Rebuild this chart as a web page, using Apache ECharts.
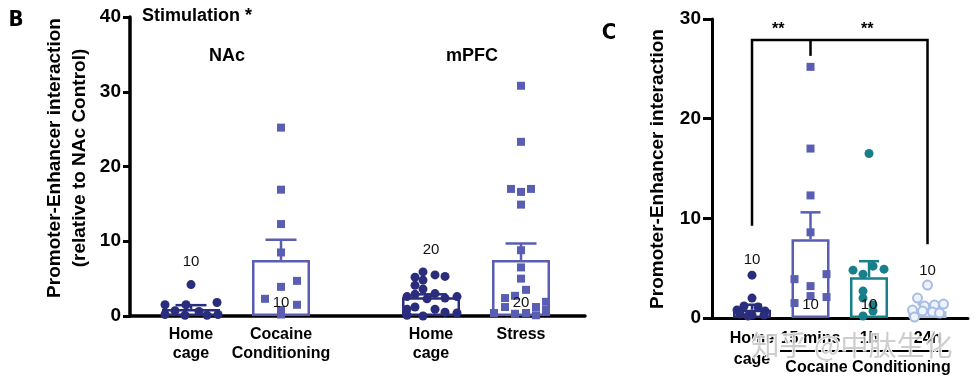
<!DOCTYPE html>
<html><head><meta charset="utf-8">
<script src="https://cdn.jsdelivr.net/npm/echarts@6/dist/echarts.min.js"></script>
<style>html,body{margin:0;padding:0;background:#fff}#c{width:978px;height:386px}</style>
</head><body><div id="c"></div>
<script>
// ================= DATA =================
// Panel B
const bCategories = ['Home\ncage', 'Cocaine\nConditioning', 'Home\ncage', 'Stress'];
const bRegions = ['NAc', 'mPFC'];
const bMeans = [0.95, 7.5, 2.5, 7.5];
const bSEM = [0.5, 2.7, 0.4, 2.2];
const bN = [10, 10, 20, 20];
const bNacHome = [4.2, 1.8, 1.5, 1.5, 0.7, 0.6, 0.2, 0.1, 0.1, 0.2];
const bNacCocaine = [25.2, 16.9, 12.3, 8.5, 4.7, 3.9, 2.3, 1.5, 0.8, 0.2];
const bMpfcHome = [5.9, 5.5, 5.3, 5.2, 4.8, 4.1, 3.6, 3.0, 2.9, 2.6, 2.6, 2.4, 2.3, 1.2, 0.9, 0.9, 0.5, 0.4, 0.1, 0.0];
const bMpfcStress = [30.8, 23.3, 17.0, 17.0, 16.6, 14.9, 8.8, 6.5, 5.0, 3.5, 2.7, 2.4, 1.9, 1.2, 1.2, 0.8, 0.4, 0.3, 0.4, 0.1];
const bYTicks = [0, 10, 20, 30, 40];
const bTitle = 'Stimulation *';
const bYName = 'Promoter-Enhancer interaction\n(relative to NAc Control)';

// Panel C
const cCategories = ['Home\ncage', '15 mins', '1h', '24h'];
const cMeans = [0.83, 7.9, 4.1, 0.67];
const cSEM = [0.5, 2.7, 1.6, 0.7];
const cN = [10, 10, 10, 10];
const cHome = [4.3, 2.0, 1.2, 1.1, 0.8, 0.7, 0.4, 0.3, 0.3, 0.2];
const c15min = [25.2, 17.0, 12.3, 8.6, 4.4, 3.9, 3.2, 2.2, 2.1, 1.5];
const c1h = [16.5, 5.2, 4.9, 4.8, 4.4, 2.7, 2.0, 1.3, 0.7, 0.2];
const c24h = [3.3, 2.0, 1.4, 1.3, 1.2, 0.8, 0.7, 0.6, 0.5, 0.1];
const cYTicks = [0, 10, 20, 30];
const cStars = ['**', '**'];
const cGroupLabel = 'Cocaine Conditioning';
const cYName = 'Promoter-Enhancer interaction';

// ================= LAYOUT / STYLE =================
const FONT = '"Liberation Sans", Arial, Helvetica, sans-serif';
const navy = '#2a2c7c', purple = '#5a5eb2', teal = '#17808a', light = '#a6bde4';
const bPos = [0, 1, 2.667, 3.667];
const cPos = [0, 1, 2, 3];
// horizontal jitter of points, px
const bJit = [
  [0, 26, -26, -5, -16, 8, -26, -6, 16, 27],
  [0, 0, 0, 0, 16, 0, -16, 16, 0, 0],
  [-8, 4, 14, -16, -8, -16, -8, 4, -16, -24, 26, 14, -4, -16, -24, 4, 14, 26, -24, -8],
  [0, 0, -10, 10, 0, 0, 0, 0, 0, 5, -6, -16, 25, -16, 15, 25, 5, -6, -27, 15]
];
const cJit = [
  [0, 0, -8, 6, -15, 13, -12, 0, 12, -4],
  [0, 0, 0, 0, 16, -16, 0, 0, 16, -16],
  [0, 4, 15, -16, -6, -6, -6, 4, 4, -6],
  [0, -10, 16, 7, -3, -15, -5, 5, 12, -13]
];
const bNLabelY = [7.2, 1.7, 8.8, 1.7];
const cNLabelY = [5.8, 1.3, 1.3, 4.7];
const bracket = { left: 0, right: 3, mid: 1, top: 27.9, leftBottom: 9.25, rightBottom: 7.4, midBottom: 26.3, starX: [0.45, 1.97], starY: 28.9 };

const bColors = [navy, purple, navy, purple];
const cColors = [navy, purple, teal, light];

function scatterData(vals, pos, jit) {
  return vals.map((v, i) => ({ value: [pos, v], symbolOffset: [jit[i], 0] }));
}
function errSeries(xi, yi, means, sems, pos, colors, cap, lw) {
  return {
    type: 'custom', xAxisIndex: xi, yAxisIndex: yi, z: 3, silent: true,
    data: means.map((m, i) => [pos[i], m, sems[i], i]),
    encode: { x: 0, y: 1 },
    renderItem: (p, api) => {
      const x = api.value(0), m = api.value(1), s = api.value(2), idx = api.value(3);
      const b = api.coord([x, m]), t = api.coord([x, m + s]);
      const st = { stroke: colors[idx], lineWidth: lw };
      return { type: 'group', children: [
        { type: 'line', shape: { x1: b[0], y1: b[1], x2: t[0], y2: t[1] }, style: st },
        { type: 'line', shape: { x1: t[0] - cap / 2, y1: t[1], x2: t[0] + cap / 2, y2: t[1] }, style: st }
      ]};
    }
  };
}
function nSeries(xi, yi, ns, ys, pos) {
  return {
    type: 'custom', xAxisIndex: xi, yAxisIndex: yi, z: 6, silent: true,
    data: ns.map((n, i) => [pos[i], ys[i], n]),
    encode: { x: 0, y: 1 },
    renderItem: (p, api) => {
      const c = api.coord([api.value(0), api.value(1)]);
      return { type: 'text', x: c[0], y: c[1], style: { text: String(api.value(2)), fill: '#111', font: '15px ' + FONT, align: 'center', verticalAlign: 'middle' } };
    }
  };
}
function barSeries(xi, yi, means, pos, colors, w, bw) {
  return {
    type: 'bar', xAxisIndex: xi, yAxisIndex: yi, z: 2, barWidth: w, silent: true,
    data: means.map((m, i) => ({ value: [pos[i], m], itemStyle: { color: '#fff', borderColor: colors[i], borderWidth: bw } }))
  };
}
function sc(xi, yi, vals, pos, jit, symbol, size, style) {
  return { type: 'scatter', xAxisIndex: xi, yAxisIndex: yi, z: 4, symbol, symbolSize: size, itemStyle: Object.assign({ opacity: 1 }, style), silent: true, data: scatterData(vals, pos, jit) };
}
function nearestLabel(v, pos, cats) {
  let bi = 0; pos.forEach((p, i) => { if (Math.abs(p - v) < Math.abs(pos[bi] - v)) bi = i; });
  return cats[bi];
}

const chart = echarts.init(document.getElementById('c'));
const tickLabel = { color: '#000', fontWeight: 'bold', fontSize: 19, fontFamily: FONT };
chart.setOption({
  animation: false,
  grid: [
    { left: 130, top: 17, right: 393, bottom: 70 },
    { left: 712, top: 19, right: 10, bottom: 68 }
  ],
  xAxis: [
    { gridIndex: 0, type: 'value', min: -0.678, max: 4.378,
      axisLine: { show: true, onZero: false, lineStyle: { color: '#000', width: 3.5 } },
      axisTick: { show: false }, splitLine: { show: false },
      axisLabel: { customValues: bPos, formatter: v => nearestLabel(v, bPos, bCategories), color: '#000', fontWeight: 'bold', fontSize: 16, lineHeight: 19, margin: 9, fontFamily: FONT } },
    { gridIndex: 1, type: 'value', min: -0.684, max: 3.692,
      axisLine: { show: true, onZero: false, lineStyle: { color: '#000', width: 3 } },
      axisTick: { show: false }, splitLine: { show: false },
      axisLabel: { customValues: cPos, formatter: v => nearestLabel(v, cPos, cCategories), color: '#000', fontWeight: 'bold', fontSize: 16, lineHeight: 21, margin: 10, fontFamily: FONT } }
  ],
  yAxis: [
    { gridIndex: 0, type: 'value', min: bYTicks[0], max: bYTicks[bYTicks.length - 1], interval: 10,
      axisLine: { show: true, onZero: false, lineStyle: { color: '#000', width: 3.5 } },
      axisTick: { show: true, length: 7, lineStyle: { color: '#000', width: 3 } },
      splitLine: { show: false }, axisLabel: Object.assign({ margin: 9 }, tickLabel) },
    { gridIndex: 1, type: 'value', min: cYTicks[0], max: cYTicks[cYTicks.length - 1], interval: 10,
      axisLine: { show: true, onZero: false, lineStyle: { color: '#000', width: 3 } },
      axisTick: { show: true, length: 9, lineStyle: { color: '#000', width: 3 } },
      splitLine: { show: false }, axisLabel: Object.assign({ margin: 11 }, tickLabel) }
  ],
  series: [
    barSeries(0, 0, bMeans, bPos, bColors, 58, 2.5),
    errSeries(0, 0, bMeans, bSEM, bPos, bColors, 31, 2.5),
    sc(0, 0, bNacHome, bPos[0], bJit[0], 'circle', 9, { color: navy }),
    sc(0, 0, bNacCocaine, bPos[1], bJit[1], 'rect', 8, { color: purple }),
    sc(0, 0, bMpfcHome, bPos[2], bJit[2], 'circle', 9, { color: navy }),
    sc(0, 0, bMpfcStress, bPos[3], bJit[3], 'rect', 8, { color: purple }),
    nSeries(0, 0, bN, bNLabelY, bPos),

    barSeries(1, 1, cMeans, cPos, cColors, 38, 2.5),
    errSeries(1, 1, cMeans, cSEM, cPos, cColors, 20, 2.5),
    sc(1, 1, cHome, cPos[0], cJit[0], 'circle', 9, { color: navy }),
    sc(1, 1, c15min, cPos[1], cJit[1], 'rect', 8, { color: purple }),
    sc(1, 1, c1h, cPos[2], cJit[2], 'circle', 9, { color: teal }),
    sc(1, 1, c24h, cPos[3], cJit[3], 'circle', 9, { color: '#eef2fb', borderColor: light, borderWidth: 2 }),
    nSeries(1, 1, cN, cNLabelY, cPos),
    {
      type: 'custom', xAxisIndex: 1, yAxisIndex: 1, z: 5, silent: true,
      data: [[bracket.left, bracket.top]], encode: { x: 0, y: 1 },
      renderItem: (p, api) => {
        const tl = api.coord([bracket.left, bracket.top]), bl = api.coord([bracket.left, bracket.leftBottom]);
        const tr = api.coord([bracket.right, bracket.top]), br = api.coord([bracket.right, bracket.rightBottom]);
        const mt = api.coord([bracket.mid, bracket.top]), mb = api.coord([bracket.mid, bracket.midBottom]);
        const st = { stroke: '#000', lineWidth: 2.5, fill: null };
        const kids = [
          { type: 'polyline', shape: { points: [bl, tl, tr, br] }, style: st },
          { type: 'line', shape: { x1: mt[0], y1: mt[1], x2: mb[0], y2: mb[1] }, style: st }
        ];
        bracket.starX.forEach((sx, i) => {
          const c = api.coord([sx, bracket.starY]);
          kids.push({ type: 'text', x: c[0], y: c[1], style: { text: cStars[i], fill: '#000', font: 'bold 16px ' + FONT, align: 'center', verticalAlign: 'middle' } });
        });
        return { type: 'group', children: kids };
      }
    }
  ],
  graphic: [
    { type: 'text', x: 16, y: 20, style: { text: 'B', fill: '#000', font: 'bold 22px "DejaVu Sans Condensed", "DejaVu Sans", sans-serif', align: 'center', verticalAlign: 'middle' } },
    { type: 'text', x: 609, y: 33, style: { text: 'C', fill: '#000', font: 'bold 22px "DejaVu Sans Condensed", "DejaVu Sans", sans-serif', align: 'center', verticalAlign: 'middle' } },
    { type: 'text', x: 142, y: 16, style: { text: bTitle, fill: '#000', font: 'bold 18px ' + FONT, align: 'left', verticalAlign: 'middle' } },
    { type: 'text', x: 227, y: 56, style: { text: bRegions[0], fill: '#000', font: 'bold 18px ' + FONT, align: 'center', verticalAlign: 'middle' } },
    { type: 'text', x: 472, y: 56, style: { text: bRegions[1], fill: '#000', font: 'bold 18px ' + FONT, align: 'center', verticalAlign: 'middle' } },
    { type: 'text', x: 67, y: 158, rotation: Math.PI / 2, style: { text: bYName, fill: '#000', font: 'bold 19px ' + FONT, lineHeight: 25, align: 'center', verticalAlign: 'middle' } },
    { type: 'text', x: 658, y: 169, rotation: Math.PI / 2, style: { text: cYName, fill: '#000', font: 'bold 19px ' + FONT, align: 'center', verticalAlign: 'middle' } },
    { type: 'line', shape: { x1: 780, y1: 351, x2: 950, y2: 351 }, style: { stroke: '#000', lineWidth: 2 } },
    { type: 'text', x: 868, y: 368, style: { text: cGroupLabel, fill: '#000', font: 'bold 16px ' + FONT, align: 'center', verticalAlign: 'middle' } },
    { type: 'text', x: 852, y: 345, z: 100, style: { text: '知乎 @中肽生化', fill: 'rgba(185,185,185,0.7)', stroke: '#fff', lineWidth: 1.5, font: '28px "Noto Sans CJK SC", sans-serif', align: 'center', verticalAlign: 'middle' } }
  ]
});
</script>
</body></html>
